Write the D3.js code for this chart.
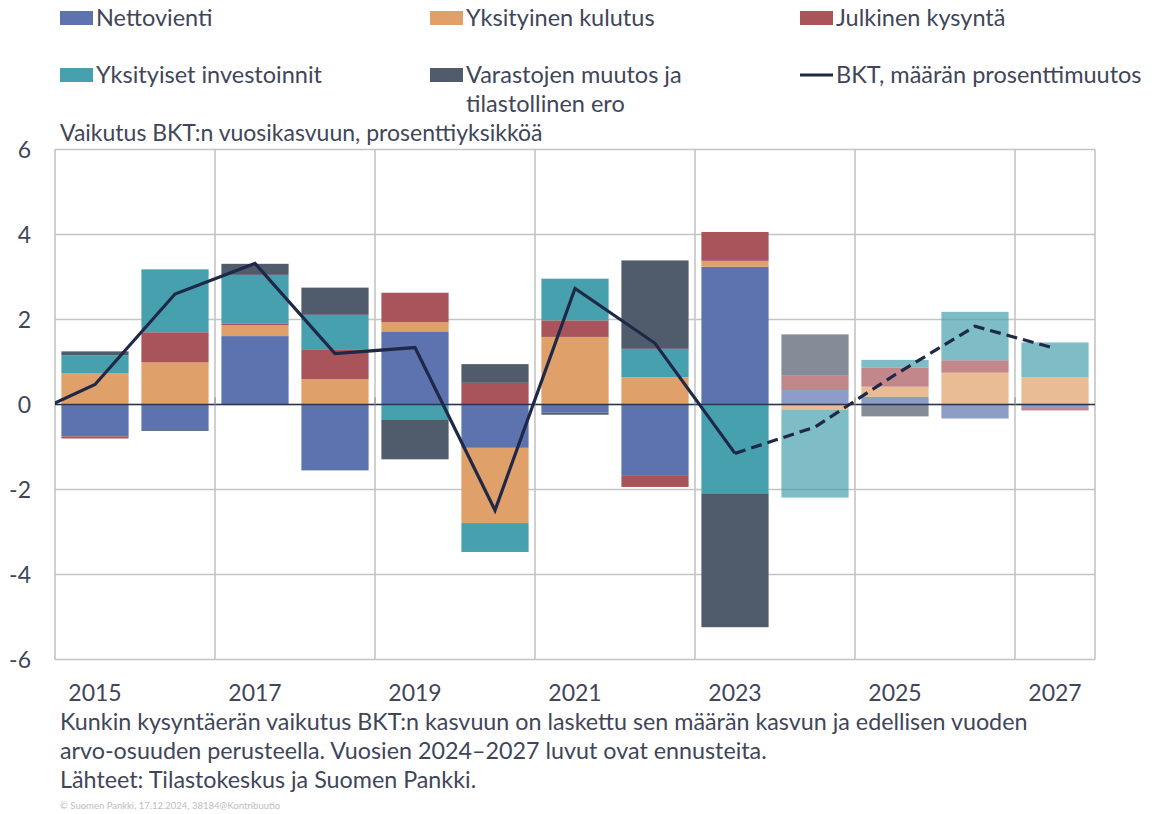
<!DOCTYPE html>
<html>
<head>
<meta charset="utf-8">
<script src="https://cdn.jsdelivr.net/npm/d3@7"></script>
<style>
  body { margin: 0; background: #fff; }
  text { font-family: Lato, "Open Sans", sans-serif; fill: #3f4659; }
</style>
</head>
<body>
<script>
// chart data
var years = ['2015', '2016', '2017', '2018', '2019', '2020', '2021', '2022', '2023', '2024', '2025', '2026', '2027'];
var yearTicks = ['2015', '2017', '2019', '2021', '2023', '2025', '2027'];
var nettovienti = [-0.75, -0.6, 1.61, -1.55, 1.72, -1.02, -0.19, -1.68, 3.24, 0.34, 0.18, -0.33, -0.06];
var kulutus = [0.73, 0.99, 0.26, 0.6, 0.22, -1.77, 1.59, 0.64, 0.14, -0.12, 0.24, 0.75, 0.64];
var julkinen = [-0.05, 0.71, 0.04, 0.7, 0.69, 0.51, 0.39, -0.26, 0.68, 0.34, 0.45, 0.29, -0.08];
var investoinnit = [0.43, 1.48, 1.14, 0.81, -0.35, -0.68, 0.98, 0.67, -2.09, -2.07, 0.18, 1.14, 0.82];
var varastot = [0.09, -0.02, 0.26, 0.64, -0.94, 0.44, -0.05, 2.08, -3.15, 0.97, -0.28, 0, 0];
// GDP line, 2014 point sits outside the plot and gets clipped
var bktYears = ['2014', '2015', '2016', '2017', '2018', '2019', '2020', '2021', '2022', '2023', '2024', '2025', '2026', '2027'];
var bkt = [-0.4, 0.47, 2.6, 3.32, 1.2, 1.34, -2.49, 2.73, 1.44, -1.15, -0.53, 0.7, 1.84, 1.32];
var yTicks = [-6, -4, -2, 0, 2, 4, 6];
var firstForecast = '2024';

var seriesNames = ['Nettovienti', 'Yksityinen kulutus', 'Julkinen kysyntä', 'Yksityiset investoinnit', 'Varastojen muutos ja tilastollinen ero'];
var seriesValues = [nettovienti, kulutus, julkinen, investoinnit, varastot];
var colors = ['#5d73b0', '#dfa06a', '#a8545a', '#47a0ae', '#505c6b'];
var lineColor = '#1f2947';

var width = 1157;
var height = 814;
var plotLeft = 55, plotRight = 1095, plotTop = 149.5, plotBottom = 659.5;

var svg = d3.select('body').append('svg')
  .attr('width', width)
  .attr('height', height);

// table for the stack
var rows = years.map(function(y, i) {
  var r = { year: y };
  seriesNames.forEach(function(k, j) { r[k] = seriesValues[j][i]; });
  return r;
});

var xScale = d3.scaleBand().domain(years).range([plotLeft, plotRight]).paddingInner(0.16).paddingOuter(0.08);
var yScale = d3.scaleLinear().domain([-6, 6]).range([plotBottom, plotTop]);
var step = xScale.step();
var xCenter = function(y) {
  return plotLeft + step * (+y - +years[0]) + step / 2;
};

// grid
var grid = svg.append('g');
grid.selectAll('line.h')
  .data(yTicks)
  .enter()
  .append('line')
  .attr('x1', plotLeft).attr('x2', plotRight)
  .attr('y1', function(d) { return yScale(d); })
  .attr('y2', function(d) { return yScale(d); })
  .attr('stroke', '#c4c4c4')
  .attr('stroke-width', 1.6);

var vLines = d3.range(0, years.length + 1, 2).map(function(i) { return plotLeft + i * step; });
vLines.push(plotRight);
grid.selectAll('line.v')
  .data(vLines)
  .enter()
  .append('line')
  .attr('x1', function(d) { return d; })
  .attr('x2', function(d) { return d; })
  .attr('y1', plotTop).attr('y2', plotBottom)
  .attr('stroke', '#c4c4c4')
  .attr('stroke-width', 1.6);

// y axis labels (plain hyphen like the original)
var yAxis = d3.axisLeft(yScale)
  .tickValues(yTicks)
  .tickFormat(function(d) { return String(d); })
  .tickSize(0)
  .tickPadding(0);
var yG = svg.append('g')
  .attr('transform', 'translate(31,0)')
  .call(yAxis);
yG.select('.domain').remove();
yG.selectAll('text')
  .style('font-size', '23px')
  .style('font-family', 'Lato, sans-serif')
  .attr('fill', '#3f4659')
  .attr('dy', '0.35em');

// stacked bars
var stack = d3.stack().keys(seriesNames).offset(d3.stackOffsetDiverging);
var stacked = stack(rows);

svg.append('g')
  .selectAll('g')
  .data(stacked)
  .enter()
  .append('g')
  .attr('fill', function(d, i) { return colors[i]; })
  .selectAll('rect')
  .data(function(d) { return d; })
  .enter()
  .append('rect')
  .attr('x', function(d) { return xScale(d.data.year); })
  .attr('width', xScale.bandwidth())
  .attr('y', function(d) { return yScale(Math.max(d[0], d[1])); })
  .attr('height', function(d) { return Math.abs(yScale(d[0]) - yScale(d[1])); })
  .attr('fill-opacity', function(d) { return +d.data.year >= +firstForecast ? 0.7 : 1; });

// zero line and small category ticks
svg.append('line')
  .attr('x1', plotLeft).attr('x2', plotRight)
  .attr('y1', yScale(0)).attr('y2', yScale(0))
  .attr('stroke', '#2b3552')
  .attr('stroke-width', 1.5);

svg.append('g')
  .selectAll('line')
  .data(vLines.slice(1, -1))
  .enter()
  .append('line')
  .attr('x1', function(d) { return d; })
  .attr('x2', function(d) { return d; })
  .attr('y1', yScale(0)).attr('y2', yScale(0) - 7)
  .attr('stroke', '#a0a0a0')
  .attr('stroke-width', 1.5);

// GDP line
svg.append('clipPath').attr('id', 'plotClip')
  .append('rect')
  .attr('x', plotLeft).attr('y', plotTop)
  .attr('width', plotRight - plotLeft).attr('height', plotBottom - plotTop);

var pts = bktYears.map(function(y, i) { return { year: y, v: bkt[i] }; });
var line = d3.line()
  .x(function(d) { return xCenter(d.year); })
  .y(function(d) { return yScale(d.v); });

var lastActual = bktYears.indexOf(firstForecast) - 1;
svg.append('path')
  .datum(pts.slice(0, lastActual + 1))
  .attr('d', line)
  .attr('clip-path', 'url(#plotClip)')
  .attr('fill', 'none')
  .attr('stroke', lineColor)
  .attr('stroke-width', 3.2)
  .attr('stroke-linejoin', 'miter');

svg.append('path')
  .datum(pts.slice(lastActual))
  .attr('d', line)
  .attr('fill', 'none')
  .attr('stroke', lineColor)
  .attr('stroke-width', 3.2)
  .attr('stroke-dasharray', '11,6');

// x labels
svg.append('g')
  .selectAll('text')
  .data(yearTicks)
  .enter()
  .append('text')
  .attr('x', function(d) { return xCenter(d); })
  .attr('y', 701)
  .attr('text-anchor', 'middle')
  .style('font-size', '23px')
  .text(function(d) { return d; });

// axis title
svg.append('text')
  .attr('x', 60).attr('y', 141)
  .style('font-size', '23px')
  .text('Vaikutus BKT:n vuosikasvuun, prosenttiyksikköä');

// legend
var legendPos = [[60, 26], [430, 26], [800, 26], [60, 83], [430, 83]];
var legend = svg.append('g');
seriesNames.forEach(function(name, i) {
  var p = legendPos[i];
  legend.append('rect')
    .attr('x', p[0]).attr('y', p[1] - 15)
    .attr('width', 33).attr('height', 14)
    .attr('fill', colors[i]);
  var t = legend.append('text')
    .attr('x', p[0] + 36).attr('y', p[1])
    .style('font-size', '23.5px');
  if (i === 4) {
    t.append('tspan').text('Varastojen muutos ja');
    t.append('tspan').attr('x', p[0] + 36).attr('dy', 29).text('tilastollinen ero');
  } else {
    t.text(name);
  }
});
legend.append('line')
  .attr('x1', 800).attr('x2', 833)
  .attr('y1', 75).attr('y2', 75)
  .attr('stroke', lineColor)
  .attr('stroke-width', 3.2);
legend.append('text')
  .attr('x', 836).attr('y', 83)
  .style('font-size', '23.5px')
  .text('BKT, määrän prosenttimuutos');

// notes
var notes = [
  'Kunkin kysyntäerän vaikutus BKT:n kasvuun on laskettu sen määrän kasvun ja edellisen vuoden',
  'arvo-osuuden perusteella. Vuosien 2024–2027 luvut ovat ennusteita.',
  'Lähteet: Tilastokeskus ja Suomen Pankki.'
];
svg.append('g')
  .selectAll('text')
  .data(notes)
  .enter()
  .append('text')
  .attr('x', 60)
  .attr('y', function(d, i) { return 730 + i * 29; })
  .style('font-size', '23.3px')
  .text(function(d) { return d; });

svg.append('text')
  .attr('x', 60).attr('y', 809)
  .style('font-size', '9.5px')
  .style('fill', '#bdbdbd')
  .text('© Suomen Pankki, 17.12.2024, 38184@Kontribuutio');
</script>
</body>
</html>
